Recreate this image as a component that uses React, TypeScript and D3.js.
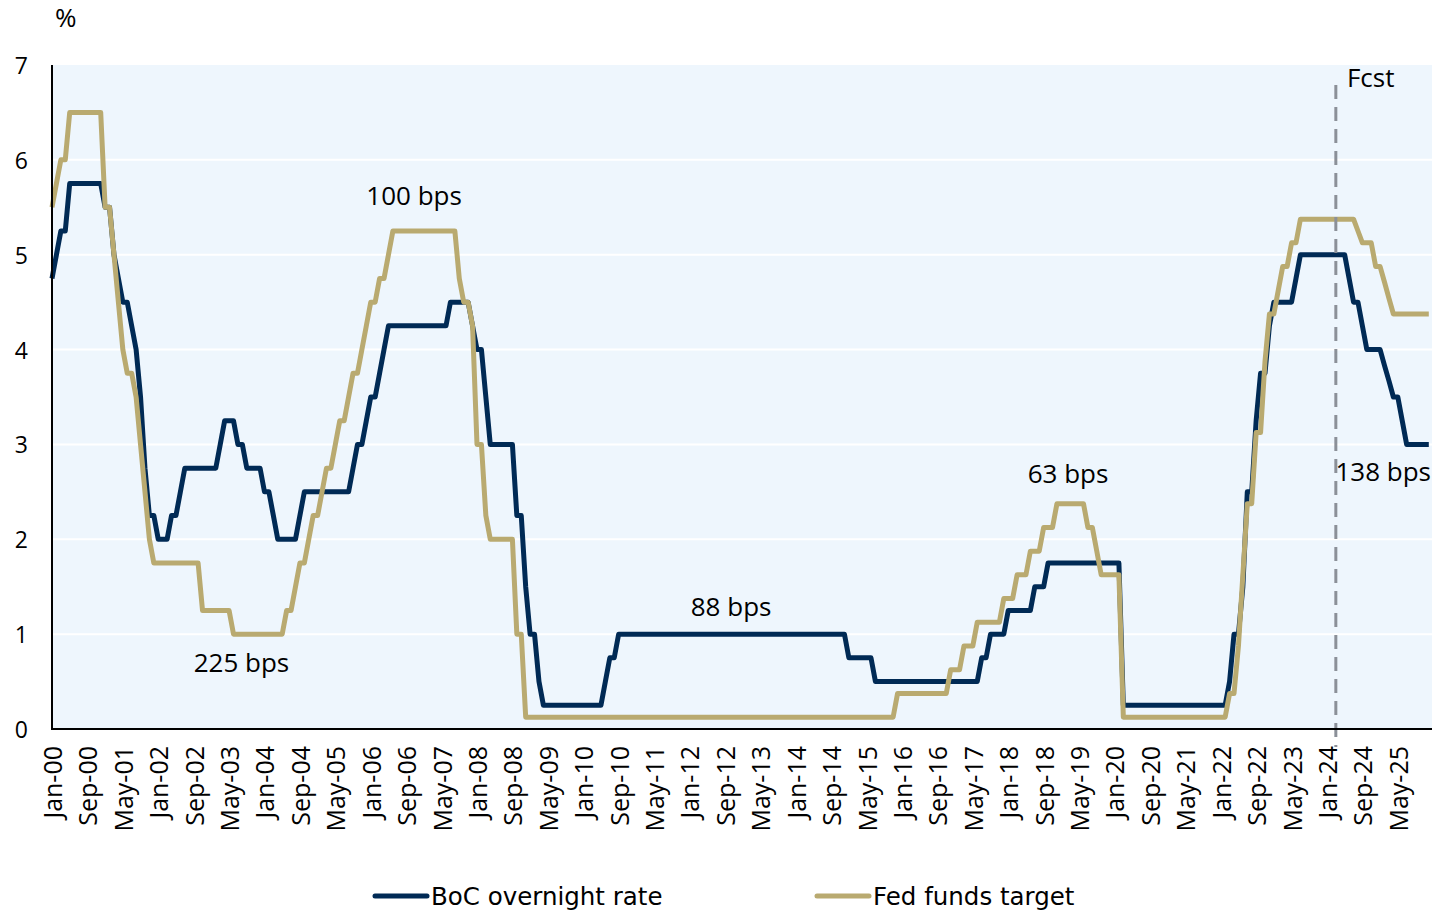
import React from "react";
import * as d3 from "d3";

// Monthly values, Jan-2000 .. Dec-2025 (12 per row)
const bocRate: number[] = [
  4.75, 5.0, 5.25, 5.25, 5.75, 5.75, 5.75, 5.75, 5.75, 5.75, 5.75, 5.75, // 2000
  5.5, 5.5, 5.0, 4.75, 4.5, 4.5, 4.25, 4.0, 3.5, 2.75, 2.25, 2.25, // 2001
  2.0, 2.0, 2.0, 2.25, 2.25, 2.5, 2.75, 2.75, 2.75, 2.75, 2.75, 2.75, // 2002
  2.75, 2.75, 3.0, 3.25, 3.25, 3.25, 3.0, 3.0, 2.75, 2.75, 2.75, 2.75, // 2003
  2.5, 2.5, 2.25, 2.0, 2.0, 2.0, 2.0, 2.0, 2.25, 2.5, 2.5, 2.5, // 2004
  2.5, 2.5, 2.5, 2.5, 2.5, 2.5, 2.5, 2.5, 2.75, 3.0, 3.0, 3.25, // 2005
  3.5, 3.5, 3.75, 4.0, 4.25, 4.25, 4.25, 4.25, 4.25, 4.25, 4.25, 4.25, // 2006
  4.25, 4.25, 4.25, 4.25, 4.25, 4.25, 4.5, 4.5, 4.5, 4.5, 4.5, 4.25, // 2007
  4.0, 4.0, 3.5, 3.0, 3.0, 3.0, 3.0, 3.0, 3.0, 2.25, 2.25, 1.5, // 2008
  1.0, 1.0, 0.5, 0.25, 0.25, 0.25, 0.25, 0.25, 0.25, 0.25, 0.25, 0.25, // 2009
  0.25, 0.25, 0.25, 0.25, 0.25, 0.5, 0.75, 0.75, 1.0, 1.0, 1.0, 1.0, // 2010
  1.0, 1.0, 1.0, 1.0, 1.0, 1.0, 1.0, 1.0, 1.0, 1.0, 1.0, 1.0, // 2011
  1.0, 1.0, 1.0, 1.0, 1.0, 1.0, 1.0, 1.0, 1.0, 1.0, 1.0, 1.0, // 2012
  1.0, 1.0, 1.0, 1.0, 1.0, 1.0, 1.0, 1.0, 1.0, 1.0, 1.0, 1.0, // 2013
  1.0, 1.0, 1.0, 1.0, 1.0, 1.0, 1.0, 1.0, 1.0, 1.0, 1.0, 1.0, // 2014
  0.75, 0.75, 0.75, 0.75, 0.75, 0.75, 0.5, 0.5, 0.5, 0.5, 0.5, 0.5, // 2015
  0.5, 0.5, 0.5, 0.5, 0.5, 0.5, 0.5, 0.5, 0.5, 0.5, 0.5, 0.5, // 2016
  0.5, 0.5, 0.5, 0.5, 0.5, 0.5, 0.75, 0.75, 1.0, 1.0, 1.0, 1.0, // 2017
  1.25, 1.25, 1.25, 1.25, 1.25, 1.25, 1.5, 1.5, 1.5, 1.75, 1.75, 1.75, // 2018
  1.75, 1.75, 1.75, 1.75, 1.75, 1.75, 1.75, 1.75, 1.75, 1.75, 1.75, 1.75, // 2019
  1.75, 1.75, 0.25, 0.25, 0.25, 0.25, 0.25, 0.25, 0.25, 0.25, 0.25, 0.25, // 2020
  0.25, 0.25, 0.25, 0.25, 0.25, 0.25, 0.25, 0.25, 0.25, 0.25, 0.25, 0.25, // 2021
  0.25, 0.25, 0.5, 1.0, 1.0, 1.5, 2.5, 2.5, 3.25, 3.75, 3.75, 4.25, // 2022
  4.5, 4.5, 4.5, 4.5, 4.5, 4.75, 5.0, 5.0, 5.0, 5.0, 5.0, 5.0, // 2023
  5.0, 5.0, 5.0, 5.0, 5.0, 4.75, 4.5, 4.5, 4.25, 4.0, 4.0, 4.0, // 2024
  4.0, 3.83, 3.67, 3.5, 3.5, 3.25, 3.0, 3.0, 3.0, 3.0, 3.0, 3.0, // 2025
];

const fedFunds: number[] = [
  5.5, 5.75, 6.0, 6.0, 6.5, 6.5, 6.5, 6.5, 6.5, 6.5, 6.5, 6.5, // 2000
  5.5, 5.5, 5.0, 4.5, 4.0, 3.75, 3.75, 3.5, 3.0, 2.5, 2.0, 1.75, // 2001
  1.75, 1.75, 1.75, 1.75, 1.75, 1.75, 1.75, 1.75, 1.75, 1.75, 1.25, 1.25, // 2002
  1.25, 1.25, 1.25, 1.25, 1.25, 1.0, 1.0, 1.0, 1.0, 1.0, 1.0, 1.0, // 2003
  1.0, 1.0, 1.0, 1.0, 1.0, 1.25, 1.25, 1.5, 1.75, 1.75, 2.0, 2.25, // 2004
  2.25, 2.5, 2.75, 2.75, 3.0, 3.25, 3.25, 3.5, 3.75, 3.75, 4.0, 4.25, // 2005
  4.5, 4.5, 4.75, 4.75, 5.0, 5.25, 5.25, 5.25, 5.25, 5.25, 5.25, 5.25, // 2006
  5.25, 5.25, 5.25, 5.25, 5.25, 5.25, 5.25, 5.25, 4.75, 4.5, 4.5, 4.25, // 2007
  3.0, 3.0, 2.25, 2.0, 2.0, 2.0, 2.0, 2.0, 2.0, 1.0, 1.0, 0.125, // 2008
  0.125, 0.125, 0.125, 0.125, 0.125, 0.125, 0.125, 0.125, 0.125, 0.125, 0.125, 0.125, // 2009
  0.125, 0.125, 0.125, 0.125, 0.125, 0.125, 0.125, 0.125, 0.125, 0.125, 0.125, 0.125, // 2010
  0.125, 0.125, 0.125, 0.125, 0.125, 0.125, 0.125, 0.125, 0.125, 0.125, 0.125, 0.125, // 2011
  0.125, 0.125, 0.125, 0.125, 0.125, 0.125, 0.125, 0.125, 0.125, 0.125, 0.125, 0.125, // 2012
  0.125, 0.125, 0.125, 0.125, 0.125, 0.125, 0.125, 0.125, 0.125, 0.125, 0.125, 0.125, // 2013
  0.125, 0.125, 0.125, 0.125, 0.125, 0.125, 0.125, 0.125, 0.125, 0.125, 0.125, 0.125, // 2014
  0.125, 0.125, 0.125, 0.125, 0.125, 0.125, 0.125, 0.125, 0.125, 0.125, 0.125, 0.375, // 2015
  0.375, 0.375, 0.375, 0.375, 0.375, 0.375, 0.375, 0.375, 0.375, 0.375, 0.375, 0.625, // 2016
  0.625, 0.625, 0.875, 0.875, 0.875, 1.125, 1.125, 1.125, 1.125, 1.125, 1.125, 1.375, // 2017
  1.375, 1.375, 1.625, 1.625, 1.625, 1.875, 1.875, 1.875, 2.125, 2.125, 2.125, 2.375, // 2018
  2.375, 2.375, 2.375, 2.375, 2.375, 2.375, 2.125, 2.125, 1.875, 1.625, 1.625, 1.625, // 2019
  1.625, 1.625, 0.125, 0.125, 0.125, 0.125, 0.125, 0.125, 0.125, 0.125, 0.125, 0.125, // 2020
  0.125, 0.125, 0.125, 0.125, 0.125, 0.125, 0.125, 0.125, 0.125, 0.125, 0.125, 0.125, // 2021
  0.125, 0.125, 0.375, 0.375, 0.875, 1.625, 2.375, 2.375, 3.125, 3.125, 3.875, 4.375, // 2022
  4.375, 4.625, 4.875, 4.875, 5.125, 5.125, 5.375, 5.375, 5.375, 5.375, 5.375, 5.375, // 2023
  5.375, 5.375, 5.375, 5.375, 5.375, 5.375, 5.375, 5.25, 5.125, 5.125, 5.125, 4.875, // 2024
  4.875, 4.71, 4.54, 4.375, 4.375, 4.375, 4.375, 4.375, 4.375, 4.375, 4.375, 4.375, // 2025
];

// every 8th month
const xTickLabels: string[] = [
  "Jan-00", "Sep-00", "May-01", "Jan-02", "Sep-02", "May-03", "Jan-04", "Sep-04",
  "May-05", "Jan-06", "Sep-06", "May-07", "Jan-08", "Sep-08", "May-09", "Jan-10",
  "Sep-10", "May-11", "Jan-12", "Sep-12", "May-13", "Jan-14", "Sep-14", "May-15",
  "Jan-16", "Sep-16", "May-17", "Jan-18", "Sep-18", "May-19", "Jan-20", "Sep-20",
  "May-21", "Jan-22", "Sep-22", "May-23", "Jan-24", "Sep-24", "May-25",
];
const xTickStep = 8;
const yTicks: number[] = [0, 1, 2, 3, 4, 5, 6, 7];

const forecastMonth = 290; // Mar-24

const annotations = [
  { text: "100 bps", i: 81.8, v: 5.52, anchor: "middle" },
  { text: "225 bps", i: 42.8, v: 0.6, anchor: "middle" },
  { text: "88 bps", i: 153.4, v: 1.19, anchor: "middle" },
  { text: "63 bps", i: 229.5, v: 2.59, anchor: "middle" },
  { text: "138 bps", i: 300.7, v: 2.61, anchor: "middle" },
  { text: "Fcst", i: 292.5, v: 6.77, anchor: "start" },
];

const series = [
  { name: "BoC overnight rate", values: bocRate, color: "#002a55" },
  { name: "Fed funds target", values: fedFunds, color: "#b9aa70" },
];

const W = 1438;
const H = 912;
const plotLeft = 52;
const plotRight = 1432;
const plotTop = 65;
const plotBottom = 729;

export default function App() {
  const x = d3.scaleLinear().domain([0, bocRate.length - 1]).range([plotLeft, 1428.8]);
  const y = d3.scaleLinear().domain([0, 7]).range([plotBottom, plotTop]);
  const line = d3
    .line<number>()
    .x((_, i) => x(i))
    .y((d) => y(d));

  const font = "'Open Sans', 'DejaVu Sans', sans-serif";

  return (
    <svg
      width={W}
      height={H}
      style={{ position: "absolute", left: 0, top: 0, display: "block", background: "#ffffff" }}
    >
      <rect x={plotLeft} y={plotTop} width={plotRight - plotLeft} height={plotBottom - plotTop} fill="#eef6fd" />
      {yTicks.slice(1, -1).map((t) => (
        <line key={t} x1={plotLeft} x2={plotRight} y1={y(t)} y2={y(t)} stroke="#ffffff" strokeWidth={2} />
      ))}
      {yTicks.map((t) => (
        <text
          key={"yl" + t}
          x={28}
          y={y(t)}
          textAnchor="end"
          dominantBaseline="central"
          fontFamily={font}
          fontSize={23}
          fill="#000"
        >
          {t}
        </text>
      ))}
      <text x={55} y={27} fontFamily={font} fontSize={26} fill="#000">
        %
      </text>

      {xTickLabels.map((lab, k) => (
        <text
          key={lab}
          transform={`translate(${x(k * xTickStep)},${746}) rotate(-90)`}
          textAnchor="end"
          dominantBaseline="central"
          fontFamily={font}
          fontSize={25}
          fill="#000"
        >
          {lab}
        </text>
      ))}

      {series.map((s) => (
        <path
          key={s.name}
          d={line(s.values) || ""}
          fill="none"
          stroke={s.color}
          strokeWidth={5}
          strokeLinejoin="round"
        />
      ))}

      <line
        x1={x(forecastMonth)}
        x2={x(forecastMonth)}
        y1={85}
        y2={747}
        stroke="#8b9098"
        strokeWidth={3}
        strokeDasharray="14,8"
      />

      <line x1={plotLeft} x2={plotLeft} y1={plotTop} y2={plotBottom} stroke="#000" strokeWidth={2} />
      <line x1={plotLeft - 1} x2={plotRight} y1={plotBottom} y2={plotBottom} stroke="#000" strokeWidth={2} />

      {annotations.map((a) => (
        <text
          key={a.text}
          x={x(a.i)}
          y={y(a.v)}
          textAnchor={a.anchor as any}
          fontFamily={font}
          fontSize={26}
          fill="#000"
        >
          {a.text}
        </text>
      ))}

      {series.map((s, k) => {
        const lx = k === 0 ? 375 : 817;
        return (
          <g key={"lg" + s.name}>
            <line x1={lx} x2={lx + 52} y1={896} y2={896} stroke={s.color} strokeWidth={5} strokeLinecap="round" />
            <text x={lx + 56} y={905} fontFamily="'DejaVu Sans', sans-serif" fontSize={24.5} fill="#000">
              {s.name}
            </text>
          </g>
        );
      })}
    </svg>
  );
}
